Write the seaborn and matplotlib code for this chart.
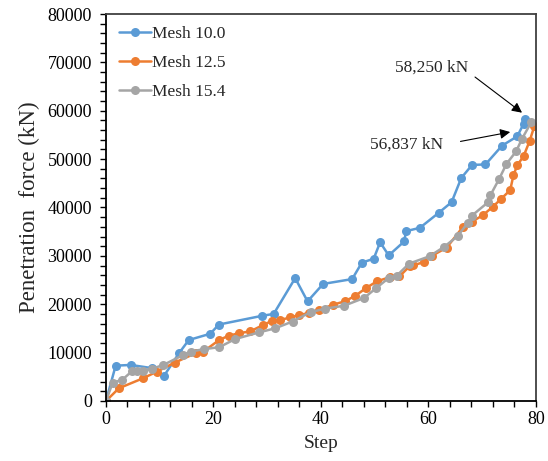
import matplotlib
matplotlib.use("Agg")
import matplotlib.pyplot as plt
from matplotlib.ticker import MultipleLocator
import seaborn as sns
import pandas as pd

mesh10_x = [0, 1.8, 4.6, 8.5, 10.8, 13.6, 15.4, 19.4, 21.0, 29.0, 31.2, 35.2, 37.5, 40.4,
            45.8, 47.6, 49.8, 51.0, 52.6, 55.5, 55.8, 58.4, 61.9, 64.3, 66.1, 68.1, 70.6,
            73.7, 76.5, 77.7, 78.0]
mesh10_y = [0, 7300, 7450, 6800, 5200, 9900, 12600, 13900, 15800, 17600, 18000, 25400, 20600, 24200,
            25200, 28600, 29400, 32800, 30100, 33000, 35100, 35800, 38900, 41100, 46100, 48800, 48900,
            52800, 54700, 57300, 58250]

mesh125_x = [0, 2.4, 6.9, 9.5, 12.8, 16.7, 18.1, 21.1, 22.8, 24.8, 26.8, 29.2, 30.9, 32.3,
             34.3, 35.9, 37.7, 39.7, 42.2, 44.4, 46.4, 48.4, 50.4, 52.9, 54.6, 56.6, 57.2,
             59.2, 60.6, 63.4, 66.4, 68.1, 70.1, 72.0, 73.4, 75.2, 75.8, 76.5, 77.7, 78.8, 79.7]
mesh125_y = [0, 2630, 4700, 6080, 7940, 9880, 10200, 12640, 13470, 14030, 14370, 15690, 16580, 16720,
             17270, 17760, 18170, 18790, 19900, 20580, 21760, 23360, 24730, 25640, 25760, 27980, 28050,
             28740, 29990, 31720, 35980, 37090, 38390, 40190, 41660, 43590, 46640, 48700, 50640, 53700, 56837]

mesh154_x = [0, 1.25, 3.0, 4.9, 5.8, 6.9, 8.5, 10.7, 14.4, 15.8, 18.2, 21.1, 24.0, 28.4, 31.5,
             34.7, 38.1, 40.8, 44.3, 48.0, 50.3, 52.6, 54.1, 56.4, 60.2, 62.9, 65.4, 67.3, 68.1,
             71.1, 71.5, 73.1, 74.5, 76.3, 77.4, 79.1]
mesh154_y = [0, 3800, 4350, 6220, 6290, 6290, 6630, 7460, 9530, 10220, 10710, 11130, 12790, 14160, 15030,
             16430, 18380, 19100, 19690, 21290, 23360, 25430, 25910, 28400, 29920, 31860, 34060, 36800, 38340,
             41100, 42490, 45800, 49000, 51600, 54200, 57600]

labels = ["Mesh 10.0", "Mesh 12.5", "Mesh 15.4"]
colors = ["#5B9BD5", "#ED7D31", "#A5A5A5"]

df = pd.concat([
    pd.DataFrame({"Step": mesh10_x, "Force": mesh10_y, "Mesh": labels[0]}),
    pd.DataFrame({"Step": mesh125_x, "Force": mesh125_y, "Mesh": labels[1]}),
    pd.DataFrame({"Step": mesh154_x, "Force": mesh154_y, "Mesh": labels[2]}),
], ignore_index=True)

sns.set_style("ticks")
plt.rcParams['font.family'] = ['Liberation Serif', 'DejaVu Serif']

fig = plt.figure(figsize=(5.48, 4.61), dpi=100)
ax = fig.add_axes([0.1934, 0.1302, 0.7847, 0.8394])

sns.lineplot(data=df, x="Step", y="Force", hue="Mesh", palette=colors,
             marker="o", markersize=6.5, markeredgewidth=0, linewidth=1.8,
             estimator=None, sort=False, ax=ax)

ax.set_xlim(0, 80)
ax.set_ylim(0, 80000)
ax.xaxis.set_major_locator(MultipleLocator(20))
ax.xaxis.set_minor_locator(MultipleLocator(4))
ax.yaxis.set_major_locator(MultipleLocator(10000))
ax.yaxis.set_minor_locator(MultipleLocator(2000))
ax.tick_params(which="both", direction="out", length=4, width=1, colors="black",
               labelsize=13, top=False, right=False)
ax.tick_params(axis="y", which="major", pad=6)
for s in ax.spines.values():
    s.set_visible(True)
    s.set_color("#404040")
    s.set_linewidth(1.3)
ax.spines["bottom"].set_color("black")
ax.spines["left"].set_color("black")

ax.set_xlabel("Step", fontsize=14, labelpad=5)
ax.set_ylabel("Penetration  force (kN)", fontsize=16.5, labelpad=5)

leg = ax.legend(loc="upper left", frameon=False, fontsize=12.5, handlelength=1.8,
                handletextpad=0.05, labelspacing=0.75, bbox_to_anchor=(-0.005, 1.01),
                borderaxespad=0.5)

ax.annotate("58,250 kN", xy=(77.4, 59600), xytext=(53.8, 69000), fontsize=12.5,
            ha="left", va="center",
            arrowprops=dict(arrowstyle="-|>", color="black", lw=0.8, mutation_scale=15,
                            shrinkA=3, shrinkB=0, relpos=(1.0, 0.2)))
ax.annotate("56,837 kN", xy=(75.2, 55600), xytext=(49.2, 53000), fontsize=12.5,
            ha="left", va="center",
            arrowprops=dict(arrowstyle="-|>", color="black", lw=0.8, mutation_scale=15,
                            shrinkA=10, shrinkB=0, relpos=(1.0, 0.5)))

fig.savefig("out.png", dpi=100)
